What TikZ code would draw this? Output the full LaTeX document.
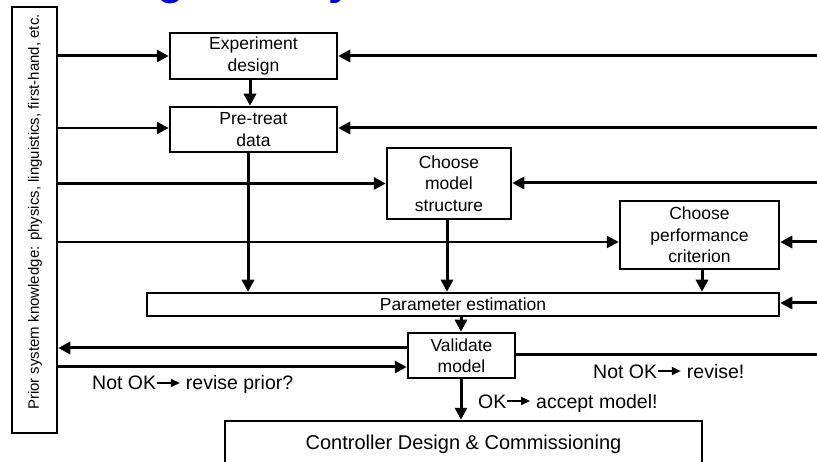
\documentclass[tikz,border=0pt]{standalone}
\usepackage{fontspec}
\setmainfont{Liberation Sans}
\usetikzlibrary{arrows.meta,calc}
\newcommand{\rarr}{\tikz[baseline=-7pt]\draw[line width=1.4pt,-{Triangle[length=9pt,width=8pt]}] (0pt,0pt)--(23pt,0pt);}
\begin{document}
\begin{tikzpicture}[x=1pt,y=-1pt,
  box/.style={draw, line width=2.5pt, align=center, inner sep=0pt, font=\fontsize{17.5}{21.5}\selectfont},
  thk/.style={line width=3pt},
  thn/.style={line width=2.2pt},
  arr/.style={-{Triangle[length=12pt,width=12pt]}},
  lbl/.style={font=\fontsize{19.5}{22}\selectfont, inner sep=0pt},
  ttl/.style={text=blue, font=\fontsize{44}{44}\selectfont\bfseries, inner sep=0pt}
]
\useasboundingbox (0,0) rectangle (817,462);
\clip (0,0) rectangle (817,462);
% clipped title fragments
\node[ttl, anchor=base west] (ttlg) at (157,-5) {g};
\node[ttl, anchor=base west] (ttly) at (328,-5) {y};

% boxes
\node[box, minimum width=45pt, minimum height=426pt] (prior) at (34.5,220) {};
\node[rotate=90, font=\fontsize{15}{18}\selectfont, inner sep=0pt] (priortxt) at (35,212) {Prior system knowledge: physics, linguistics, first-hand, etc.};
\node[box, minimum width=167pt, minimum height=46pt] (exp) at (253.5,56) {Experiment\\design};
\node[box, minimum width=167pt, minimum height=45pt] (pre) at (253.5,129.5) {Pre-treat\\data};
\node[box, minimum width=124pt, minimum height=71pt] (cms) at (449,183.5) {Choose\\model\\structure};
\node[box, minimum width=159pt, minimum height=68pt] (cpc) at (699.5,235) {Choose\\performance\\criterion};
\node[box, minimum width=632pt, minimum height=23pt] (par) at (463,304.5) {Parameter estimation};
\node[box, minimum width=107pt, minimum height=45pt] (val) at (461.5,355.5) {Validate\\model};
\node[box, minimum width=477pt, minimum height=46pt, font=\fontsize{20}{24}\selectfont] (ctl) at (463.5,444) {Controller Design \& Commissioning};

% helper coordinates
\coordinate (rA) at (817,56);
\coordinate (rB) at (817,128);
\coordinate (rC) at (817,183);
\coordinate (rD) at (817,242);
\coordinate (rE) at (817,303);
\coordinate (rF) at (817,355);
\coordinate (yB) at (0,128);
\coordinate (yD) at (0,242);
\coordinate (yV1) at (0,348);
\coordinate (yV2) at (0,367);
\coordinate (xE) at (250,0);
\coordinate (xP) at (248,0);
\coordinate (xM) at (447,0);
\coordinate (xC) at (702,0);
\coordinate (xV) at (461,0);

% connectors
\draw[thk,arr] (prior.east |- exp.west) -- (exp.west);
\draw[thk,arr] (rA) -- (exp.east);
\draw[thk,arr] (xE |- exp.south) -- (xE |- pre.north);
\draw[thn,arr] (prior.east |- yB) -- (pre.west |- yB);
\draw[thk,arr] (rB) -- (pre.east |- rB);
\draw[thk,arr] (xP |- pre.south) -- (xP |- par.north);
\draw[thk,arr] (prior.east |- cms.west) -- (cms.west);
\draw[thk,arr] (rC) -- (cms.east |- rC);
\draw[thk,arr] (xM |- cms.south) -- (xM |- par.north);
\draw[thn,arr] (prior.east |- yD) -- (cpc.west |- yD);
\draw[thk,arr] (rD) -- (cpc.east |- rD);
\draw[thk,arr] (xC |- cpc.south) -- (xC |- par.north);
\draw[thk,arr] (rE) -- (par.east |- rE);
\draw[thk,arr] (xV |- par.south) -- (xV |- val.north);
\draw[thk,arr] (val.west |- yV1) -- (prior.east |- yV1);
\draw[thk,arr] (prior.east |- yV2) -- (val.west |- yV2);
\draw[thk] (val.east |- rF) -- (rF);
\draw[thk,arr] (xV |- val.south) -- (xV |- ctl.north);

% labels
\node[lbl, anchor=base west] (lbl1) at (92,390) {Not OK\rarr{} revise prior?};
\node[lbl, anchor=base west] (lbl2) at (593,378) {Not OK\rarr{} revise!};
\node[lbl, anchor=base west] (lbl3) at (478,408) {OK\rarr{} accept model!};
\end{tikzpicture}
\end{document}
